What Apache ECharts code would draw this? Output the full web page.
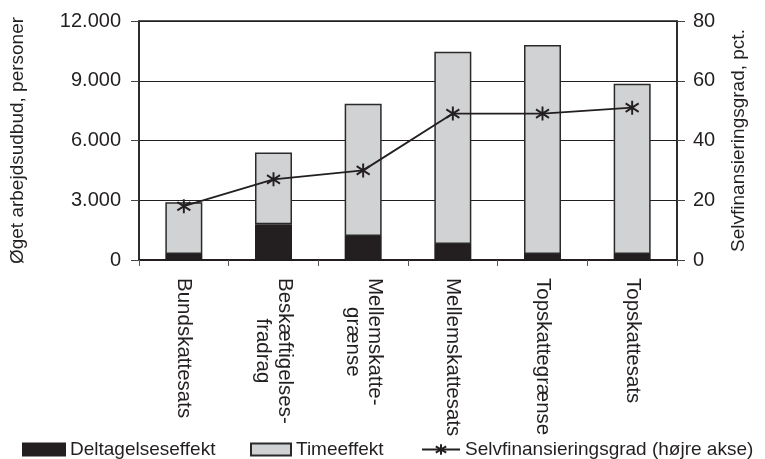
<!DOCTYPE html>
<html>
<head>
<meta charset="utf-8">
<script src="https://cdn.jsdelivr.net/npm/echarts@6/dist/echarts.min.js"></script>
<style>
html,body{margin:0;padding:0;background:#fff;}
#c{width:765px;height:459px;}
</style>
</head>
<body>
<div id="c"></div>
<script>
const categories = ['Bundskattesats', 'Beskæftigelses-\nfradrag', 'Mellemskatte-\ngrænse', 'Mellemskattesats', 'Topskattegrænse', 'Topskattesats'];
const deltagelseseffekt = [300, 1800, 1200, 800, 300, 300];
const timeeffekt = [2600, 3600, 6650, 9650, 10500, 8550];
const selvfinansieringsgrad = [18, 27, 30, 49, 49, 51];
const leftTicks = [0, 3000, 6000, 9000, 12000];
const rightTicks = [0, 20, 40, 60, 80];

const FONT = "'Liberation Sans', Arial, sans-serif";
const INK = '#231f20';

function fmtThousands(v) {
  return String(v).replace(/\B(?=(\d{3})+(?!\d))/g, '.');
}

const chart = echarts.init(document.getElementById('c'), null, {renderer: 'canvas'});
const star = 'path://M0,-10L0,10M-8,-6L8,6M-8,6L8,-6';
const legendText = {fontSize: 19, fontFamily: FONT, color: INK};

chart.setOption({
  animation: false,
  backgroundColor: '#fff',
  textStyle: {fontFamily: FONT, color: INK},
  grid: {left: 135, right: 88, top: 21, height: 239, show: true, borderColor: INK, borderWidth: 1.5, containLabel: false},
  legend: [
    {data: [{name: 'Deltagelseseffekt', icon: 'rect'}], left: 22, top: 440, padding: 0, itemWidth: 42, itemHeight: 12, itemGap: 0, textStyle: legendText},
    {data: [{name: 'Timeeffekt', icon: 'rect'}], left: 250, top: 440, padding: 0, itemWidth: 40, itemHeight: 12, itemGap: 0, textStyle: legendText},
    {data: ['Selvfinansieringsgrad (højre akse)'], left: 421, top: 440, padding: 0, itemWidth: 38, itemHeight: 13, itemGap: 0, textStyle: legendText}
  ],
  xAxis: {
    type: 'category',
    data: categories,
    boundaryGap: true,
    axisLine: {show: true, lineStyle: {color: INK, width: 2}},
    axisTick: {show: true, alignWithLabel: false, length: 6, lineStyle: {color: '#555', width: 1}},
    axisLabel: {
      rotate: -90, margin: 18, interval: 0,
      color: INK, fontSize: 20.5, fontFamily: FONT,
      formatter: function (v) { return v.split('\n').map(s => '{c|' + s + '}').join('\n'); },
      rich: {c: {align: 'center', fontSize: 20.5, fontFamily: FONT, color: INK, lineHeight: 22}}
    }
  },
  yAxis: [
    {
      type: 'value', min: leftTicks[0], max: leftTicks[leftTicks.length - 1], interval: leftTicks[1] - leftTicks[0],
      position: 'left',
      name: 'Øget arbejdsudbud, personer', nameLocation: 'middle', nameRotate: 90, nameGap: 112,
      nameTextStyle: {fontSize: 19, fontFamily: FONT, color: INK},
      axisLine: {show: true, lineStyle: {color: INK, width: 1.5}},
      axisTick: {show: true, inside: false, length: 8, lineStyle: {color: '#444', width: 1}},
      axisLabel: {margin: 18, fontSize: 20, fontFamily: FONT, color: INK, formatter: fmtThousands},
      splitLine: {show: true, lineStyle: {color: INK, width: 1}}
    },
    {
      type: 'value', min: rightTicks[0], max: rightTicks[rightTicks.length - 1], interval: rightTicks[1] - rightTicks[0],
      position: 'right',
      name: 'Selvfinansieringsgrad, pct.', nameLocation: 'middle', nameRotate: 90, nameGap: 52,
      nameTextStyle: {fontSize: 19, fontFamily: FONT, color: INK},
      axisLine: {show: true, lineStyle: {color: INK, width: 1.5}},
      axisTick: {show: true, inside: false, length: 8, lineStyle: {color: '#444', width: 1}},
      axisLabel: {margin: 16, fontSize: 20, fontFamily: FONT, color: INK},
      splitLine: {show: false}
    }
  ],
  series: [
    {
      name: 'Deltagelseseffekt', type: 'bar', stack: 'a', barWidth: 37,
      data: deltagelseseffekt,
      itemStyle: {color: INK, borderColor: INK, borderWidth: 1.5}
    },
    {
      name: 'Timeeffekt', type: 'bar', stack: 'a', barWidth: 37,
      data: timeeffekt,
      itemStyle: {color: '#d1d2d4', borderColor: '#2a2a2a', borderWidth: 1.5}
    },
    {
      name: 'Selvfinansieringsgrad (højre akse)', type: 'line', yAxisIndex: 1,
      data: selvfinansieringsgrad,
      symbol: star, symbolSize: [13, 14],
      lineStyle: {color: INK, width: 1.8},
      itemStyle: {color: INK, borderColor: INK, borderWidth: 2}
    }
  ]
});
</script>
</body>
</html>
